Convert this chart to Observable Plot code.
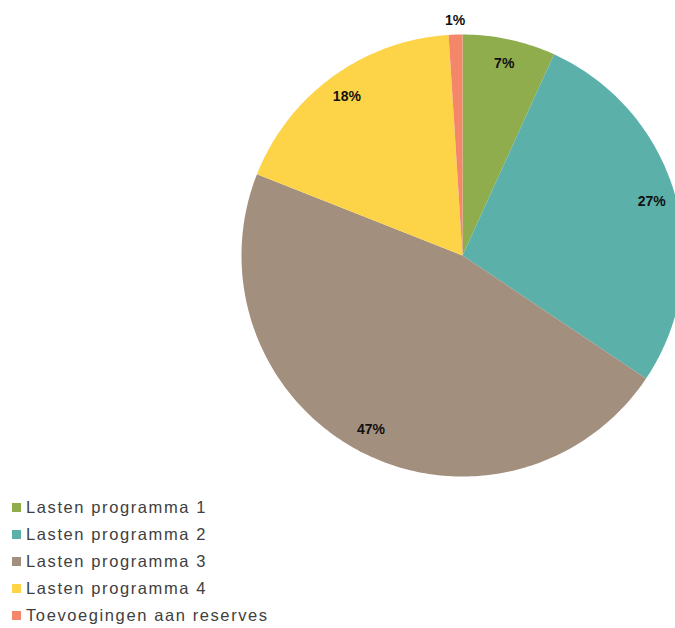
<!DOCTYPE html>
<html>
<head>
<meta charset="utf-8">
<script src="https://cdn.jsdelivr.net/npm/d3@7"></script>
<script src="https://cdn.jsdelivr.net/npm/@observablehq/plot@0.6"></script>
<style>
  html, body { margin: 0; padding: 0; background: #fff; overflow: hidden; }
  #chart svg { display: block; overflow: hidden; }
  #legend { padding-top: 4px; font-family: "Liberation Sans", Arial, sans-serif; font-size: 16.5px; letter-spacing: 1.6px; color: #404040; }
  .row { height: 27px; line-height: 27px; display: flex; align-items: center; }
  .sw { width: 9px; height: 9px; margin-left: 12px; margin-right: 5px; flex: none; }
</style>
</head>
<body>
<div id="chart"></div>
<div id="legend"></div>
<script>
const categories = ["Lasten programma 1", "Lasten programma 2", "Lasten programma 3", "Lasten programma 4", "Toevoegingen aan reserves"];
const values = [6.8, 27.6, 46.6, 18.0, 1.0];
const labels = ["7%", "27%", "47%", "18%", "1%"];
const colors = ["#8fad4c", "#5bb0aa", "#a38f7d", "#fdd447", "#f4866a"];

const total = d3.sum(values);
const points = [];
const textData = [];
let acc = 0;
values.forEach((v, i) => {
  const a0 = acc / total * 2 * Math.PI;
  acc += v;
  const a1 = acc / total * 2 * Math.PI;
  const cat = categories[i];
  points.push({cat, x: 0, y: 0});
  const n = Math.max(4, Math.ceil((a1 - a0) / (Math.PI / 180)));
  for (let k = 0; k <= n; k++) {
    const a = a0 + (a1 - a0) * k / n;
    points.push({cat, x: Math.sin(a), y: Math.cos(a)});
  }
  points.push({cat, x: 0, y: 0});
  const am = (a0 + a1) / 2;
  const r = v / total < 0.03 ? 1.065 : 0.89;
  textData.push({label: labels[i], x: r * Math.sin(am), y: r * Math.cos(am)});
});

const chart = Plot.plot({
  width: 675,
  height: 490,
  margin: 0,
  x: {domain: [-1, 1], range: [241, 683], axis: null},
  y: {domain: [-1, 1], range: [476, 34], axis: null},
  color: {domain: categories, range: colors},
  marks: [
    Plot.line(points, {x: "x", y: "y", z: "cat", fill: "cat", stroke: "none"}),
    Plot.text(textData, {x: "x", y: "y", text: "label", fill: "#111", fontWeight: "bold", fontSize: 14, fontFamily: "Liberation Sans, Arial, sans-serif"})
  ]
});
document.getElementById("chart").appendChild(chart);

const legend = document.getElementById("legend");
categories.forEach((c, i) => {
  const row = document.createElement("div");
  row.className = "row";
  const sw = document.createElement("span");
  sw.className = "sw";
  sw.style.background = colors[i];
  const t = document.createElement("span");
  t.textContent = c;
  row.appendChild(sw);
  row.appendChild(t);
  legend.appendChild(row);
});
</script>
</body>
</html>
